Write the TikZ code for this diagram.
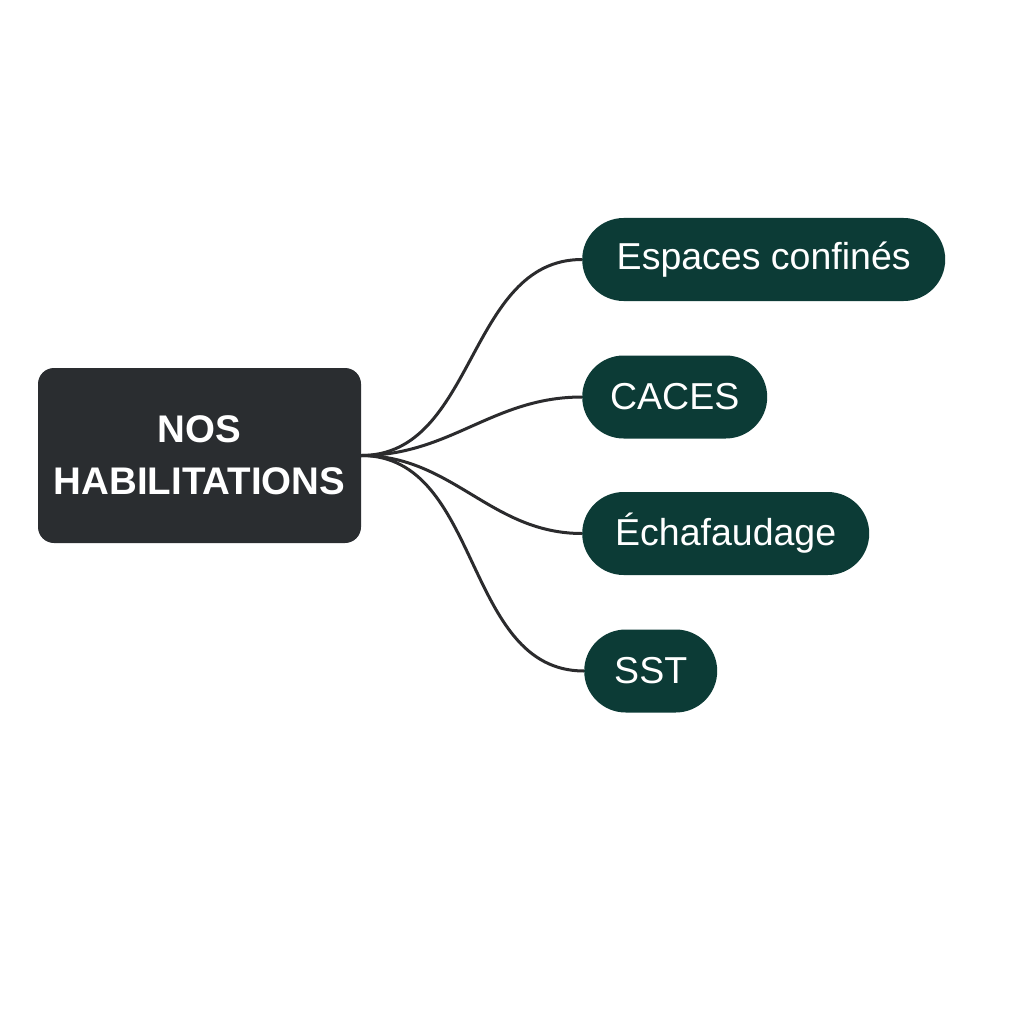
\documentclass[tikz,border=0pt]{standalone}
\usepackage{fontspec}
\setmainfont{Liberation Sans}
\usetikzlibrary{positioning, shapes.misc}

\definecolor{hubgray}{HTML}{2A2D30}
\definecolor{pillteal}{HTML}{0C3B36}
\definecolor{linkgray}{HTML}{2B2B2D}

\begin{document}
\begin{tikzpicture}[x=1pt, y=-1pt,
    hub/.style={rectangle, rounded corners=16pt, fill=hubgray, text=white,
        minimum width=323pt, minimum height=175pt, align=center,
        font=\fontsize{38.5}{52}\selectfont\bfseries},
    pill/.style={rounded rectangle, fill=pillteal, text=white,
        minimum height=83pt, inner xsep=0pt, anchor=west,
        font=\fontsize{37.5}{44}\selectfont},
    link/.style={draw=linkgray, line width=3pt, out=0, in=180}]
    \useasboundingbox (0,0) rectangle (1024,1024);
    \fill[white] (0,0) rectangle (1024,1024);
    \node[hub] (hab) at (199.5,455.5) {NOS\\HABILITATIONS};
    \node[pill, minimum width=363pt] (esp) at (582,259.5) {Espaces confinés};
    \node[pill, minimum width=185pt] (caces) at (582,397) {CACES};
    \node[pill, minimum width=287pt] (echaf) at (582,533.5) {Échafaudage};
    \node[pill, minimum width=133pt] (sst) at (584,671) {SST};
    % connectors
    \draw[link] (hab.east) to (esp.west);
    \draw[link] (hab.east) to (caces.west);
    \draw[link] (hab.east) to (echaf.west);
    \draw[link] (hab.east) to (sst.west);
\end{tikzpicture}
\end{document}
